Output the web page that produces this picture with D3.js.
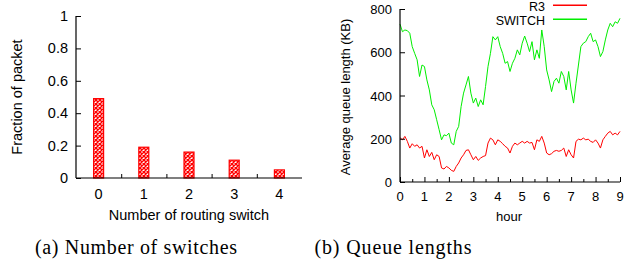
<!DOCTYPE html>
<html>
<head>
<meta charset="utf-8">
<script src="https://cdn.jsdelivr.net/npm/d3@7"></script>
<style>
  body { margin: 0; background: #fff; }
  svg { display: block; }
  text { font-family: "Liberation Sans", Arial, sans-serif; fill: #000; }
  .caption { font-family: "Liberation Serif", "DejaVu Serif", serif; }
</style>
</head>
<body>
<div id="chart"></div>
<script>
// (a) fraction of packets per number of routing switches
const switchCounts = ["0", "1", "2", "3", "4"];
const packetFraction = [0.49, 0.19, 0.16, 0.11, 0.05];
const fracTicks = [0, 0.2, 0.4, 0.6, 0.8, 1];

// (b) average queue length over time, sampled every 0.1 hour
const hours = d3.range(0, 91).map(i => i / 10);
const switchQueue = [730, 695, 703, 700, 688, 626, 595, 565, 488, 541,
  534, 472, 426, 357, 334, 288, 242, 195, 218, 214,
  226, 180, 172, 234, 257, 349, 411, 449, 488, 411,
  365, 388, 349, 380, 357, 442, 534, 595, 672, 657,
  672, 626, 595, 549, 557, 511, 549, 572, 611, 588,
  642, 675, 642, 603, 649, 565, 611, 572, 703, 626,
  518, 472, 418, 465, 480, 457, 511, 488, 426, 511,
  426, 365, 457, 541, 626, 642, 649, 672, 688, 649,
  657, 626, 580, 603, 657, 703, 734, 718, 741, 734, 757];
const r3Queue = [205, 195, 211, 188, 157, 177, 165, 172, 157, 165,
  111, 149, 118, 137, 103, 126, 118, 65, 60, 72,
  65, 54, 49, 72, 88, 111, 126, 146, 149, 126,
  103, 118, 100, 111, 118, 122, 180, 203, 195, 172,
  195, 188, 177, 165, 157, 134, 165, 180, 172, 180,
  188, 180, 188, 180, 183, 149, 195, 188, 211, 180,
  134, 126, 131, 142, 146, 142, 146, 157, 118, 149,
  126, 111, 188, 198, 195, 203, 195, 198, 188, 183,
  195, 180, 157, 195, 211, 226, 234, 218, 226, 218, 234];
const hourTicks = d3.range(0, 10);
const queueTicks = [0, 200, 400, 600, 800];
const seriesNames = ["R3", "SWITCH"];
const seriesColors = ["#ff0000", "#00ee00"];

const W = 639, H = 261;
const svg = d3.select("#chart").append("svg").attr("width", W).attr("height", H);

// crosshatch fill for the bars
const pat = svg.append("defs").append("pattern")
  .attr("id", "hatch")
  .attr("patternUnits", "userSpaceOnUse")
  .attr("width", 4).attr("height", 4);
pat.append("rect").attr("width", 4).attr("height", 4).attr("fill", "#fff");
pat.append("path").attr("d", "M0,0L4,4M4,0L0,4")
  .attr("stroke", "#ff0000").attr("stroke-width", 1.4);

// ---------- chart (a) ----------
const fsA = 14.5;
const xa = d3.scaleLinear().domain([-0.5, 4.5]).range([76, 302]);
const ya = d3.scaleLinear().domain([0, 1]).range([178, 16]);

const ga = svg.append("g");

ga.selectAll(".bar")
  .data(packetFraction)
  .enter()
  .append("rect")
  .attr("class", "bar")
  .attr("x", (d, i) => xa(i) - 5)
  .attr("y", d => ya(d))
  .attr("width", 10)
  .attr("height", d => ya(0) - ya(d))
  .attr("fill", "url(#hatch)")
  .attr("stroke", "#ff0000")
  .attr("stroke-width", 1.2);

// y axis, ticks pointing inward
const yAxisA = d3.axisRight(ya).tickValues(fracTicks).tickSize(5).tickFormat("");
ga.append("g").attr("transform", "translate(76,0)").call(yAxisA)
  .call(g => g.select(".domain").attr("d", `M0,${ya(1)}V${ya(0)}`));
ga.selectAll(".ya-label")
  .data(fracTicks)
  .enter()
  .append("text")
  .attr("x", 68)
  .attr("y", d => ya(d) + 5)
  .attr("text-anchor", "end")
  .attr("font-size", fsA)
  .text(d => d3.format("~g")(d));

// x axis, ticks at category boundaries
const xAxisA = d3.axisTop(xa).tickValues([0.5, 1.5, 2.5, 3.5]).tickSize(4).tickFormat("");
ga.append("g").attr("transform", `translate(0,${ya(0)})`).call(xAxisA)
  .call(g => g.select(".domain").attr("d", `M${xa(-0.5)},0H${xa(4.5)}`));
ga.selectAll(".xa-label")
  .data(switchCounts)
  .enter()
  .append("text")
  .attr("x", (d, i) => xa(i))
  .attr("y", 199)
  .attr("text-anchor", "middle")
  .attr("font-size", fsA)
  .text(d => d);

ga.append("text").attr("x", 189).attr("y", 220).attr("text-anchor", "middle")
  .attr("font-size", fsA).text("Number of routing switch");
ga.append("text").attr("transform", "translate(22,97) rotate(-90)")
  .attr("text-anchor", "middle").attr("font-size", fsA).text("Fraction of packet");

// ---------- chart (b) ----------
const xb = d3.scaleLinear().domain([0, 9]).range([400, 620]);
const yb = d3.scaleLinear().domain([0, 800]).range([182, 9]);

const gb = svg.append("g");

const line = d3.line().x((d, i) => xb(hours[i])).y(d => yb(d));
[r3Queue, switchQueue].forEach((series, k) => {
  gb.append("path")
    .datum(series)
    .attr("d", line)
    .attr("fill", "none")
    .attr("stroke", seriesColors[k])
    .attr("stroke-width", 1);
});

const yAxisB = d3.axisRight(yb).tickValues(queueTicks).tickSize(5).tickFormat("");
gb.append("g").attr("transform", "translate(400,0)").call(yAxisB)
  .call(g => g.select(".domain").attr("d", `M0,${yb(800)}V${yb(0)}`));
gb.selectAll(".yb-label")
  .data(queueTicks)
  .enter()
  .append("text")
  .attr("x", 392)
  .attr("y", d => yb(d) + 5)
  .attr("text-anchor", "end")
  .attr("font-size", 13)
  .text(d => d);

const xAxisB = d3.axisTop(xb).tickValues(hourTicks).tickSize(5).tickFormat("");
gb.append("g").attr("transform", `translate(0,${yb(0)})`).call(xAxisB)
  .call(g => g.select(".domain").attr("d", `M${xb(0)},0H${xb(9)}`));
const xAxisBMinor = d3.axisTop(xb).tickValues(hourTicks.slice(0, 9).map(h => h + 0.5))
  .tickSize(3).tickFormat("");
gb.append("g").attr("transform", `translate(0,${yb(0)})`).call(xAxisBMinor)
  .call(g => g.select(".domain").remove());
gb.selectAll(".xb-label")
  .data(hourTicks)
  .enter()
  .append("text")
  .attr("x", d => xb(d))
  .attr("y", 201)
  .attr("text-anchor", "middle")
  .attr("font-size", 13)
  .text(d => d);

gb.append("text").attr("x", 509).attr("y", 221).attr("text-anchor", "middle")
  .attr("font-size", 13).text("hour");
gb.append("text").attr("transform", "translate(350,97) rotate(-90)")
  .attr("text-anchor", "middle").attr("font-size", 13).text("Average queue length (KB)");

// legend
seriesNames.forEach((name, k) => {
  const ly = 5 + k * 14;
  gb.append("text").attr("x", 545).attr("y", ly + 5.5).attr("text-anchor", "end")
    .attr("font-size", 12.5).text(name);
  gb.append("rect").attr("x", 553).attr("y", ly - 0.5).attr("width", 34).attr("height", 1.5)
    .attr("fill", seriesColors[k]);
});

// captions
svg.append("text").attr("class", "caption").attr("x", 136).attr("y", 254)
  .attr("text-anchor", "middle").attr("font-size", 20)
  .attr("textLength", 202).attr("lengthAdjust", "spacing")
  .text("(a) Number of switches");
svg.append("text").attr("class", "caption").attr("x", 393).attr("y", 254)
  .attr("text-anchor", "middle").attr("font-size", 20)
  .attr("textLength", 157).attr("lengthAdjust", "spacing")
  .text("(b) Queue lengths");

svg.selectAll(".tick line").attr("stroke", "#000");
svg.selectAll(".domain").attr("stroke", "#000").attr("stroke-width", 1.2);
</script>
</body>
</html>
